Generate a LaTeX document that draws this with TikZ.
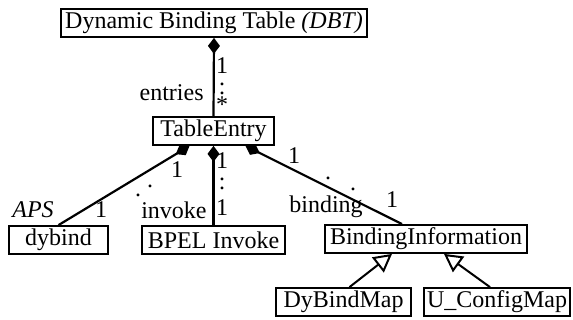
\documentclass[tikz,border=0pt]{standalone}
\usepackage{fontspec}
\setmainfont{Liberation Serif}
\usetikzlibrary{arrows.meta}

\tikzset{
  cls/.style={draw, line width=0.9pt, minimum height=14pt, inner sep=1pt},
  lbl/.style={inner sep=0pt},
  mult/.style={inner sep=0pt, align=center, anchor=north},
  comp/.style={line width=1.1pt, {Diamond[length=8pt,width=6pt]}-},
  gen/.style={line width=1pt, -{Triangle[open,length=9pt,width=9.5pt,fill=white]}}
}

\begin{document}
\begin{tikzpicture}[x=0.5pt, y=-0.5pt, font=\fontsize{12}{14}\selectfont]
\useasboundingbox (0,0) rectangle (573,320);

% classes
\node[cls, minimum width=153pt] (DBT) at (214,23) {Dynamic Binding Table \textit{(DBT)}};
\node[cls, minimum width=60.5pt] (Entry) at (213.5,131) {TableEntry};
\node[cls, minimum width=49.5pt] (Dybind) at (58.5,240) {dybind};
\node[cls, minimum width=71.5pt] (Invoke) at (213.5,240) {BPEL Invoke};
\node[cls, minimum width=101pt] (BindInfo) at (426,239) {BindingInformation};
\node[cls, minimum width=67.5pt] (DyMap) at (343.5,302) {DyBindMap};
\node[cls, minimum width=73pt] (CfgMap) at (497,302) {U\_ConfigMap};

% compositions
\draw[comp] (DBT.south) -- (Entry.north);
\draw[comp] ([xshift=-12pt]Entry.south) -- (Dybind.north);
\draw[comp] (Entry.south) -- (Invoke.north);
\draw[comp] ([xshift=16pt]Entry.south) -- ([xshift=-12pt]BindInfo.north);

% generalisations
\draw[gen] ([xshift=3pt]DyMap.north) -- ([xshift=-17pt]BindInfo.south);
\draw[gen] ([xshift=-3.5pt]CfgMap.north) -- ([xshift=9pt]BindInfo.south);

% multiplicities and roles
\node[mult] (eMult) at (222,57) {1\\[-8pt].\\[-9.5pt].\\[-5pt]*};
\node[lbl, anchor=east] (eRole) at (204,93) {entries};

\node[lbl] (d1) at (177,170) {1};
\node[lbl] (d2) at (150,186) {.};
\node[lbl] (d3) at (138,195) {.};
\node[lbl] (d4) at (101,210) {1};
\node[lbl] (dRole) at (33,210) {\textit{APS}};

\node[mult] (iMult) at (222,152) {1\\[-8pt].\\[-9.5pt].\\[-1pt]1};
\node[lbl, anchor=east] (iRole) at (207,210) {invoke};

\node[lbl] (b1) at (294,156) {1};
\node[lbl] (b2) at (328,178) {.};
\node[lbl] (b3) at (353,189) {.};
\node[lbl] (b4) at (392,200) {1};
\node[lbl] (bRole) at (326,207) {binding};
\end{tikzpicture}
\end{document}
